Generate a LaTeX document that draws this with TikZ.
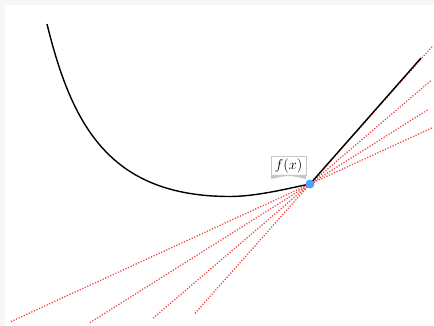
\documentclass[tikz,border=0pt]{standalone}
\definecolor{pointblue}{RGB}{77,163,255}
\definecolor{subred}{RGB}{240,70,70}
\definecolor{pagegrey}{RGB}{246,246,246}
\usepackage{tikz}
\usetikzlibrary{positioning, calc}

\begin{document}
\begin{tikzpicture}[
  x=1pt, y=1pt,
  curve/.style={line width=1.4pt, black, line join=round},
  subgrad/.style={subred, line width=1.3pt, dash pattern=on 1.2pt off 1.6pt},
  dot/.style={circle, fill=pointblue, inner sep=0pt, minimum size=9pt},
  lbl/.style={draw=gray!45, fill=white, inner xsep=3.5pt, inner ysep=2pt,
              font=\fontsize{14}{16}\selectfont}
]
\fill[pagegrey] (0,0) rectangle (434,326);
\fill[white] (5,0) rectangle (434,321);
\useasboundingbox (0,0) rectangle (434,326);
\coordinate (S) at (47,302);
\coordinate (M) at (230,129.5);
\coordinate (P) at (310,142);
\coordinate (E) at (421,268);
% subgradients through P
\foreach \s/\l/\r in {0.46/299/122, 0.63/220/118, 0.855/157/121, 1.125/115/122}
  \draw[subgrad] ($(P)+(-\l,-\l*\s)$) -- ($(P)+(\r,\r*\s)$);
% the function
\draw[curve] (S) .. controls (72,200) and (110,129.5) .. (M)
  .. controls (257,129.5) and (290,138) .. (P) -- (E);
\node[dot] (x) at (P) {};
\node[lbl, above left=9pt and 4pt of P] (fx) {$f(x)$};
\fill[gray!45] (fx.south west) -- ++(0,-4) .. controls ($(fx.south)+(0,0)$) ..
  ($(fx.south east)+(0,-4)$) -- (fx.south east) -- cycle;
\end{tikzpicture}
\end{document}
